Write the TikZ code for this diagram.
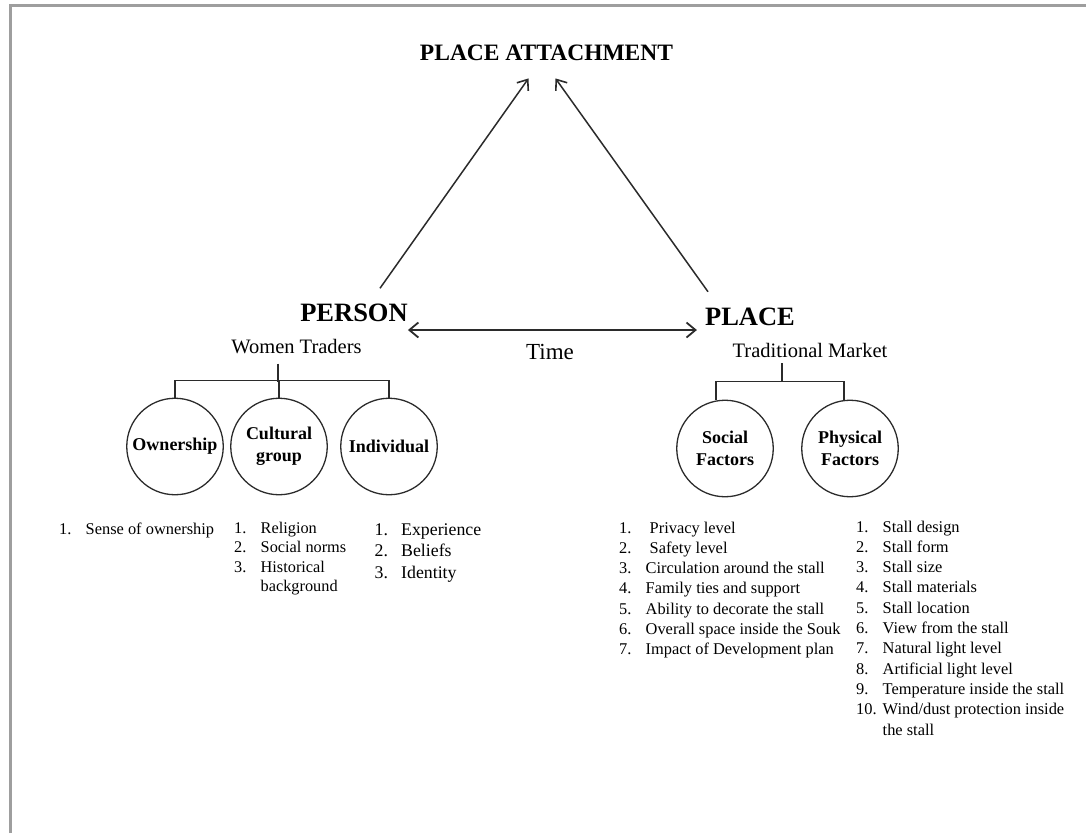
\documentclass[tikz,border=0pt]{standalone}
\usepackage{fontspec}
\setmainfont{Liberation Serif}
\usepackage{xcolor}
\usetikzlibrary{arrows.meta}
\definecolor{ink}{HTML}{2B2B2B}
\newcommand{\numlist}[1]{\begin{tabular}[t]{@{}p{26.5pt}@{}l@{}}#1\end{tabular}}
\def\width{1086}
\def\hauteur{833}

\begin{document}
\begin{tikzpicture}[x=1pt, y=-1pt,
	big/.style={font=\bfseries\fontsize{26.5}{30}\selectfont, inner sep=0, anchor=base},
	sub/.style={font=\fontsize{20.5}{24}\selectfont, inner sep=0, anchor=base},
	ring/.style={circle, draw=ink, line width=1.3pt, minimum size=96.5pt, inner sep=0, align=center, font=\bfseries\fontsize{18}{22}\selectfont},
	lst/.style={inner sep=0, anchor=base west, font=\fontsize{16.4}{20.3}\selectfont},
	tree/.style={draw=ink, line width=1.3pt},
	arr/.style={draw=ink, line width=1.5pt, -{Straight Barb[length=9pt, width=14pt, line width=1.6pt]}},
	frame/.style={draw=black!38, line width=2.4pt}]
	\useasboundingbox (0,0) rectangle (\width,\hauteur);
	\draw[frame] (10.5,\hauteur) -- (10.5,5.5) -- (\width,5.5);
	%\draw[step=50, black!10] (0,0) grid (\width,\hauteur);

	\node[font=\bfseries\fontsize{23.5}{28}\selectfont, inner sep=0, anchor=base] (pa) at (546.5,60) {PLACE ATTACHMENT};
	\node[big] (person) at (354,321) {PERSON};
	\node[big] (place) at (750,325.5) {PLACE};
	\node[sub] (wt) at (296.5,353) {Women Traders};
	\node[sub] (tm) at (810,357) {Traditional Market};
	\node[font=\fontsize{23}{27}\selectfont, inner sep=0, anchor=base] (time) at (550,359) {Time};

	\draw[arr] ([shift={(26,-15)}]person.north) -- ([shift={(-18,18)}]pa.south);
	\draw[arr] ([shift={(-42,-16)}]place.north) -- ([shift={(9,18)}]pa.south);
	\draw[arr, line width=2pt, {Straight Barb[length=9pt, width=15pt, line width=1.8pt]}-{Straight Barb[length=9pt, width=15pt, line width=1.8pt]}]
		([shift={(0,9)}]person.base east) -- ([shift={(-8,4.5)}]place.base west);

	% person side
	\node[ring] (own) at (175,446.5) {Ownership};
	\node[ring] (cult) at (279,446.5) {Cultural\\group};
	\node[ring] (indiv) at (389,446.5) {Individual};
	\draw[tree] ([shift={(-18.5,10)}]wt.south) -- ++(0,18);
	\draw[tree] (own.north) -- ++(0,-17) -| (indiv.north);
	\draw[tree] (cult.north) -- ++(0,-17);

	% place side
	\node[ring] (soc) at (725,448.5) {Social\\Factors};
	\node[ring] (phys) at (850,448.5) {Physical\\Factors};
	\draw[tree] ([shift={(-28,6)}]tm.south) -- ++(0,19);
	\draw[tree] ([shift={(-9,0)}]soc.north) -- ++(0,-18) -| ([shift={(-6,0)}]phys.north);

	\node[lst] (ownl) at (59,534) {\numlist{1. & Sense of ownership}};
	\node[lst, font=\fontsize{16.3}{19.5}\selectfont] (cultl) at (234,533) {\numlist{1. & Religion\\ 2. & Social norms\\ 3. & Historical\\ & background}};
	\node[lst, font=\fontsize{17.8}{21.5}\selectfont] (indivl) at (374.5,535) {\numlist{1. & Experience\\ 2. & Beliefs\\ 3. & Identity}};
	\node[lst] (socl) at (619,533) {\numlist{1. & \hspace{4pt}Privacy level\\ 2. & \hspace{4pt}Safety level\\ 3. & Circulation around the stall\\ 4. & Family ties and support\\ 5. & Ability to decorate the stall\\ 6. & Overall space inside the Souk\\ 7. & Impact of Development plan}};
	\node[lst] (physl) at (856,532) {\numlist{1. & Stall design\\ 2. & Stall form\\ 3. & Stall size\\ 4. & Stall materials\\ 5. & Stall location\\ 6. & View from the stall\\ 7. & Natural light level\\ 8. & Artificial light level\\ 9. & Temperature inside the stall\\ 10. & Wind/dust protection inside\\ & the stall}};
\end{tikzpicture}
\end{document}
